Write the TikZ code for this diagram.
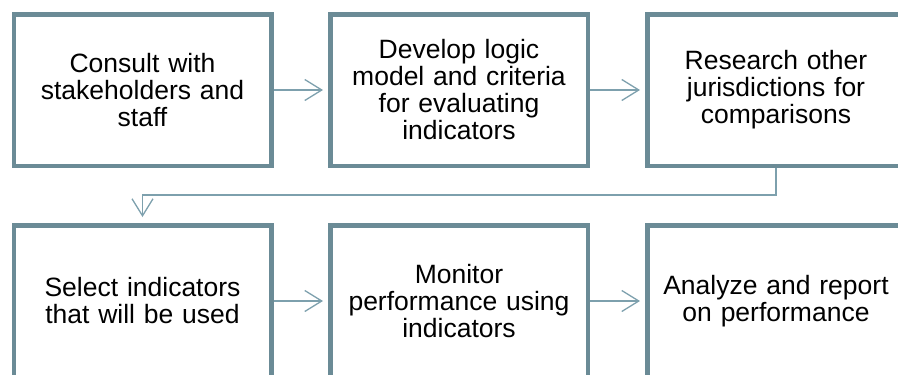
\documentclass[tikz,border=0pt]{standalone}
\usepackage{fontspec}
\setmainfont{Liberation Sans}
\usetikzlibrary{arrows.meta}

\definecolor{boxline}{RGB}{107,139,150}
\definecolor{linkline}{RGB}{125,160,173}

\tikzstyle{stepbox}=[rectangle, draw=boxline, line width=4.5, fill=white, minimum width=257.5, minimum height=151.5, inner sep=0, text width=245, align=center, font=\fontsize{26.5}{27}\selectfont]
\tikzstyle{link}=[draw=linkline, line width=1.3, -{Straight Barb[length=17pt, width=21pt, line width=1.3pt]}]

\begin{document}
\begin{tikzpicture}[x=1pt, y=-1pt]
      \useasboundingbox (0,0) rectangle (898,375);
      \clip (0,0) rectangle (898,375);

      % top row
      \node[stepbox] (consult)  at (142.5,90) {Consult with\\stakeholders and\\staff};
      \node[stepbox] (develop)  at (459,90)   {Develop logic\\model and criteria\\for evaluating\\indicators};
      \node[stepbox] (research) at (776,90)   {Research other\\jurisdictions for\\comparisons};

      % bottom row
      \node[stepbox] (select)   at (142.5,301) {Select indicators\\that will be used};
      \node[stepbox] (monitor)  at (459,301)   {Monitor\\performance using\\indicators};
      \node[stepbox] (analyze)  at (776,301)   {Analyze and report\\on performance};

      \draw[link] (consult.east) -- ([xshift=-5pt]develop.west);
      \draw[link] (develop.east) -- ([xshift=-5pt]research.west);
      \draw[link] (research.south) -- ++(0,27) -| ([yshift=6pt]select.north);
      \draw[link] (select.east) -- ([xshift=-5pt]monitor.west);
      \draw[link] (monitor.east) -- ([xshift=-5pt]analyze.west);
\end{tikzpicture}
\end{document}
